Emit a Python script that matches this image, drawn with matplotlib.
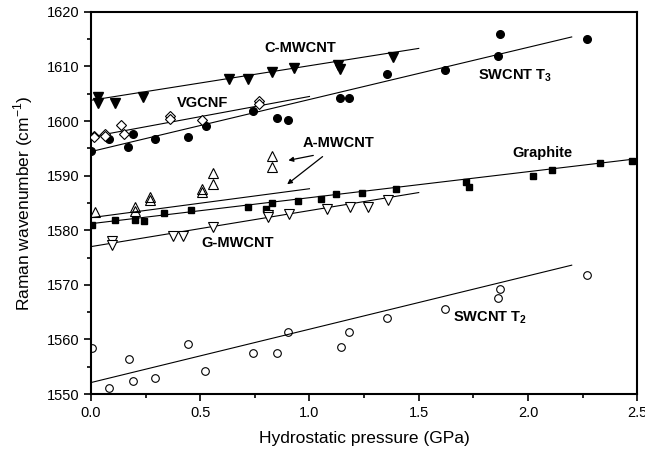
import numpy as np
import matplotlib
matplotlib.use("Agg")
import matplotlib.pyplot as plt
from matplotlib.ticker import MultipleLocator

plt.rcParams['font.family'] = ['Liberation Sans', 'DejaVu Sans']
plt.rcParams['mathtext.fontset'] = 'custom'
plt.rcParams['mathtext.rm'] = 'Liberation Sans'
plt.rcParams['mathtext.bf'] = 'Liberation Sans:bold'

# C-MWCNT (filled down triangles)
p_cm = [0.03, 0.03, 0.11, 0.24, 0.63, 0.72, 0.83, 0.93, 1.13, 1.14, 1.38]
v_cm = [1604.4, 1603.3, 1603.3, 1604.4, 1607.7, 1607.7, 1609.0, 1609.7, 1610.2, 1609.5, 1611.7]
# SWCNT T3 (filled circles)
p_t3 = [0.0, 0.084, 0.171, 0.194, 0.293, 0.443, 0.525, 0.743, 0.853, 0.903,
        1.14, 1.18, 1.354, 1.62, 1.862, 1.873, 2.27]
v_t3 = [1594.6, 1596.8, 1595.3, 1597.7, 1596.8, 1597.1, 1599.0, 1601.8, 1600.6, 1600.2,
        1604.3, 1604.3, 1608.6, 1609.4, 1612.0, 1616.0, 1615.0]
# VGCNF (open diamonds)
p_vg = [0.015, 0.015, 0.064, 0.064, 0.137, 0.152, 0.362, 0.362, 0.507, 0.769, 0.769]
v_vg = [1597.3, 1597.0, 1597.7, 1597.3, 1599.2, 1597.6, 1600.9, 1600.4, 1600.1, 1603.6, 1603.1]
# A-MWCNT (open up triangles)
p_am = [0.018, 0.2, 0.2, 0.27, 0.27, 0.507, 0.507, 0.56, 0.56, 0.827, 0.827]
v_am = [1583.3, 1584.2, 1583.5, 1586.0, 1585.5, 1587.5, 1587.0, 1588.4, 1590.5, 1593.6, 1591.6]
# Graphite (filled squares)
p_gr = [0.006, 0.11, 0.2, 0.244, 0.336, 0.458, 0.72, 0.8, 0.827, 0.946, 1.051, 1.12,
        1.239, 1.397, 1.717, 1.728, 2.022, 2.112, 2.328, 2.475]
v_gr = [1581.0, 1581.8, 1581.8, 1581.6, 1583.1, 1583.7, 1584.3, 1583.9, 1585.0, 1585.3,
        1585.7, 1586.6, 1586.8, 1587.6, 1588.9, 1588.0, 1590.0, 1591.0, 1592.3, 1592.7]
# G-MWCNT (open down triangles)
p_gm = [0.098, 0.098, 0.377, 0.423, 0.56, 0.809, 0.809, 0.906, 1.079, 1.186, 1.267, 1.358]
v_gm = [1578.1, 1577.3, 1578.9, 1579.0, 1580.6, 1582.8, 1582.4, 1583.0, 1583.8, 1584.3, 1584.3, 1585.6]
# SWCNT T2 (open circles)
p_t2 = [0.003, 0.084, 0.174, 0.194, 0.293, 0.443, 0.522, 0.743, 0.853, 0.903,
        1.143, 1.183, 1.354, 1.621, 1.861, 1.873, 2.272]
v_t2 = [1558.5, 1551.1, 1556.5, 1552.3, 1552.9, 1559.2, 1554.3, 1557.6, 1557.5, 1561.4,
        1558.7, 1561.3, 1564.0, 1565.5, 1567.6, 1569.3, 1571.8]

# linear fit lines: (x start, x end), (y start, y end)
fit_x = {'cm': [0, 1.5], 't3': [0, 2.2], 'vg': [0, 1.0], 'am': [0, 1.0],
         'gr': [0, 2.5], 'gm': [0, 1.5], 't2': [0, 2.2]}
fit_y = {'cm': [1603.8, 1613.3], 't3': [1594.4, 1615.4], 'vg': [1597.1, 1604.5],
         'am': [1582.3, 1587.6], 'gr': [1581.2, 1593.1], 'gm': [1577.0, 1586.9],
         't2': [1552.1, 1573.6]}

fig = plt.figure(figsize=(6.45, 4.55), dpi=100)
ax = fig.add_axes([0.141, 0.134, 0.847, 0.840])

for k in fit_x:
    ax.plot(fit_x[k], fit_y[k], color='black', lw=0.8, zorder=1)

ax.plot(p_cm, v_cm, 'v', ms=7.5, color='black', zorder=3)
ax.plot(p_t3, v_t3, 'o', ms=5.5, color='black', zorder=3)
ax.plot(p_vg, v_vg, 'D', ms=5, mfc='white', mec='black', mew=0.8, zorder=3)
ax.plot(p_am, v_am, '^', ms=6.5, mfc='none', mec='black', mew=0.8, zorder=3)
ax.plot(p_gr, v_gr, 's', ms=5, color='black', zorder=3)
ax.plot(p_gm, v_gm, 'v', ms=6.5, mfc='white', mec='black', mew=0.8, zorder=3)
ax.plot(p_t2, v_t2, 'o', ms=5.5, mfc='none', mec='black', mew=0.8, zorder=3)

fs = 10.5
ax.text(0.96, 1613.4, 'C-MWCNT', fontsize=fs, fontweight='bold', ha='center', va='center')
ax.text(0.51, 1603.3, 'VGCNF', fontsize=fs, fontweight='bold', ha='center', va='center')
ax.text(1.135, 1596.0, 'A-MWCNT', fontsize=fs, fontweight='bold', ha='center', va='center')
ax.text(1.77, 1608.3, r'SWCNT T$_\mathbf{3}$', fontsize=fs, fontweight='bold', ha='left', va='center')
ax.text(1.93, 1594.2, 'Graphite', fontsize=fs, fontweight='bold', ha='left', va='center')
ax.text(0.506, 1577.7, 'G-MWCNT', fontsize=fs, fontweight='bold', ha='left', va='center')
ax.text(1.656, 1563.9, r'SWCNT T$_\mathbf{2}$', fontsize=fs, fontweight='bold', ha='left', va='center')

arw = dict(arrowstyle='-|>', color='black', lw=0.9, mutation_scale=7)
ax.annotate('', xy=(0.891, 1592.7), xytext=(1.03, 1593.8), arrowprops=arw)
ax.annotate('', xy=(0.888, 1588.1), xytext=(1.07, 1593.8), arrowprops=arw)

ax.set_xlim(0, 2.5)
ax.set_ylim(1550, 1620)
ax.xaxis.set_major_locator(MultipleLocator(0.5))
ax.xaxis.set_minor_locator(MultipleLocator(0.25))
ax.yaxis.set_major_locator(MultipleLocator(10))
ax.yaxis.set_minor_locator(MultipleLocator(5))
ax.xaxis.set_major_formatter(plt.FormatStrFormatter('%.1f'))
ax.tick_params(which='both', direction='out', top=False, right=False, labelsize=10.5, width=1.2)
ax.tick_params(which='major', length=5)
ax.tick_params(which='minor', length=3)
for s in ax.spines.values():
    s.set_linewidth(1.5)

ax.set_xlabel('Hydrostatic pressure (GPa)', fontsize=12.5, labelpad=8)
ax.set_ylabel(r'Raman wavenumber (cm$^{-1}$)', fontsize=12.5, labelpad=8)

fig.savefig('out.png', dpi=100)
